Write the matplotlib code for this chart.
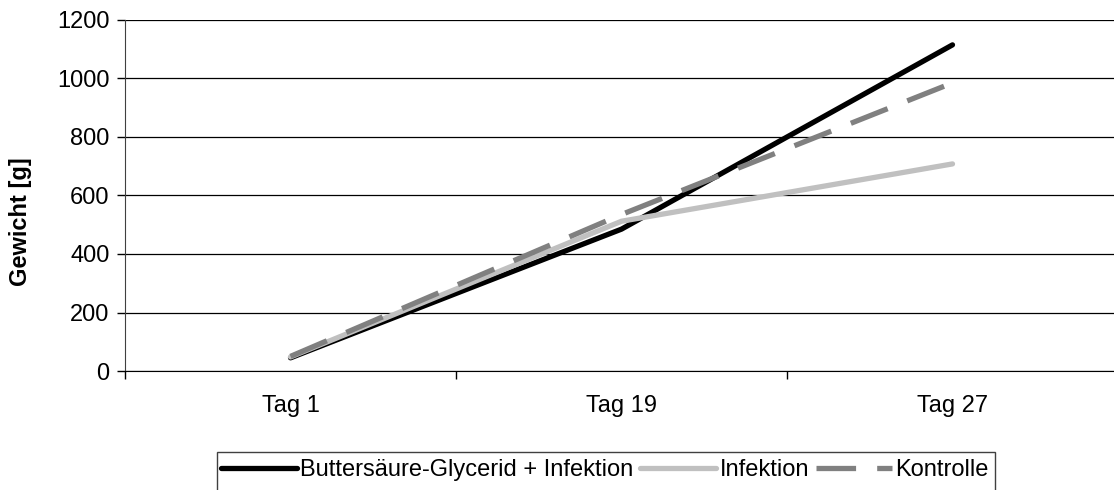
import matplotlib
matplotlib.use("Agg")
import matplotlib.pyplot as plt
from matplotlib.patches import Rectangle

plt.rcParams['font.family'] = ['Liberation Sans', 'DejaVu Sans']

categories = ["Tag 1", "Tag 19", "Tag 27"]
butyrate_infection = [45, 485, 1115]
infection = [48, 512, 708]
control = [50, 535, 985]
series_labels = ["Buttersäure-Glycerid + Infektion", "Infektion", "Kontrolle"]
y_ticks = [0, 200, 400, 600, 800, 1000, 1200]

W, H = 1114, 490
fig = plt.figure(figsize=(W / 100, H / 100), dpi=100)
ax_left, ax_right, ax_top, ax_bottom = 125, 1118, 20, 371
ax = fig.add_axes([ax_left / W, 1 - ax_bottom / H,
                   (ax_right - ax_left) / W, (ax_bottom - ax_top) / H])

x = list(range(len(categories)))
ax.plot(x, butyrate_infection, color="black", lw=3.8, solid_capstyle="round",
        solid_joinstyle="round", label=series_labels[0], zorder=3)
ax.plot(x, infection, color="#c0c0c0", lw=3.8, solid_capstyle="round",
        solid_joinstyle="round", label=series_labels[1], zorder=4)
ax.plot(x, control, color="#808080", lw=3.8, dashes=(7.5, 4),
        dash_capstyle="butt", label=series_labels[2], zorder=5)

ax.set_xlim(-0.5, 2.5)
ax.set_ylim(0, 1200)
ax.set_yticks(y_ticks)
ax.yaxis.grid(True, color="black", lw=0.9)
ax.set_axisbelow(True)

# category labels centred, tick marks between categories
ax.set_xticks([-0.5, 0.5, 1.5, 2.5])
ax.set_xticklabels([])
ax.set_xticks(x, minor=True)
ax.set_xticklabels(categories, minor=True)
ax.tick_params(axis="x", which="minor", length=0, pad=17, labelsize=17)
ax.tick_params(axis="x", which="major", length=6, width=1, color="black", direction="out")
ax.tick_params(axis="y", length=6, width=1, color="black", direction="out", pad=5,
               labelsize=17)

for side in ["top", "right"]:
    ax.spines[side].set_visible(False)
ax.spines["left"].set_color("#404040")
ax.spines["bottom"].set_color("black")

ax.set_ylabel("Gewicht [g]", fontsize=17, fontweight="bold", va="center")
ax.yaxis.set_label_coords((21 - ax_left) / (ax_right - ax_left),
                          (ax_bottom - 222) / (ax_bottom - ax_top))

# legend row, framed by a box whose lower edge runs off the figure
leg = fig.legend(loc="center left", bbox_to_anchor=(221 / W, 1 - 470 / H),
                 ncol=3, frameon=False, fontsize=17,
                 handlelength=3.2, handletextpad=0.15, columnspacing=0.3,
                 borderpad=0, borderaxespad=0)
fig.canvas.draw()
lb = leg.get_window_extent()
box_left = 217
box_right = lb.x1 + 6
fig.add_artist(Rectangle((box_left / W, -0.05), (box_right - box_left) / W,
                         (H - 452) / H + 0.05, transform=fig.transFigure,
                         fill=False, edgecolor="#404040", lw=1, zorder=0))

fig.savefig("out.png", dpi=100)
